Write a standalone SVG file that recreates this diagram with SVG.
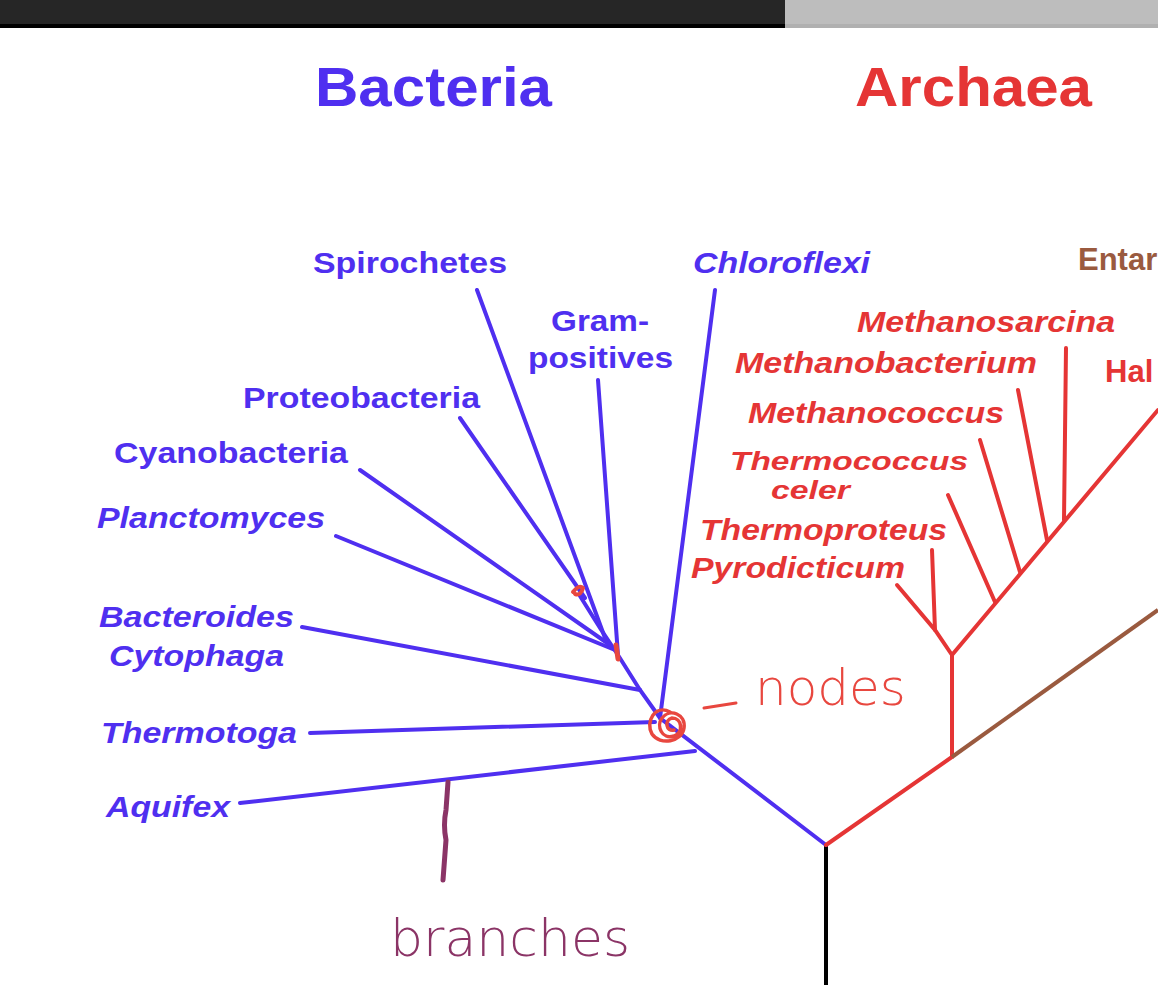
<svg xmlns="http://www.w3.org/2000/svg" width="1158" height="999" viewBox="0 0 1158 999">
<style>
.b{fill:#4f2ff0;font-family:"Liberation Sans",Arial,sans-serif;font-weight:bold;font-size:30px}
.r{fill:#e53535;font-family:"Liberation Sans",Arial,sans-serif;font-weight:bold;font-size:30px}
.i{font-style:italic}
.bl{stroke:#4f2ff0;stroke-width:4;fill:none;stroke-linecap:round}
.rl{stroke:#e53535;stroke-width:4;fill:none;stroke-linecap:round}
.hw{fill:none;stroke-linecap:round;stroke-linejoin:round}
</style>
<rect width="1158" height="999" fill="#fff"/>
<rect x="0" y="0" width="785" height="24" fill="#262626"/>
<rect x="0" y="24" width="785" height="4" fill="#000"/>
<rect x="785" y="0" width="373" height="24" fill="#bdbdbd"/>
<rect x="785" y="24" width="373" height="4" fill="#b0b0b0"/>
<g id="titles">
<text x="315" y="106" textLength="237" lengthAdjust="spacingAndGlyphs" style="font-size:56px" class="b">Bacteria</text>
<text x="855" y="106" textLength="237" lengthAdjust="spacingAndGlyphs" style="font-size:56px" class="r">Archaea</text>
</g>
<g id="connectors">
<line x1="826" y1="845" x2="826" y2="985" stroke="#000" stroke-width="4"/>
<polyline class="bl" points="826,845 660,718 640,690 618,655 600,628 580,596"/>
<line class="bl" x1="240" y1="803" x2="695" y2="751"/>
<line class="bl" x1="310" y1="733" x2="655" y2="722"/>
<line class="bl" x1="660" y1="718" x2="715" y2="290"/>
<line class="bl" x1="302" y1="627" x2="640" y2="690"/>
<line class="bl" x1="336" y1="536" x2="615" y2="650"/>
<line class="bl" x1="360" y1="470" x2="610" y2="645"/>
<line class="bl" x1="460" y1="418" x2="585" y2="598"/>
<line class="bl" x1="477" y1="290" x2="605" y2="638"/>
<line class="bl" x1="598" y1="380" x2="618" y2="655"/>
<polyline class="rl" points="826,845 952,757 952,655 1158,410"/>
<line x1="952" y1="757" x2="1158" y2="610" stroke="#9a5a3f" stroke-width="4"/>
<polyline class="rl" points="897,585 935,630 952,655"/>
<line class="rl" x1="932" y1="550" x2="935" y2="630"/>
<line class="rl" x1="948" y1="495" x2="995" y2="602"/>
<line class="rl" x1="980" y1="440" x2="1020" y2="572"/>
<line class="rl" x1="1018" y1="390" x2="1047" y2="540"/>
<line class="rl" x1="1066" y1="348" x2="1064" y2="520"/>
</g>
<g id="bacteria-labels">
<text x="313" y="273" textLength="194" lengthAdjust="spacingAndGlyphs" class="b">Spirochetes</text>
<text x="551" y="331" textLength="98" lengthAdjust="spacingAndGlyphs" class="b">Gram-</text>
<text x="528" y="368" textLength="145" lengthAdjust="spacingAndGlyphs" class="b">positives</text>
<text x="693" y="273" textLength="177" lengthAdjust="spacingAndGlyphs" class="b i">Chloroflexi</text>
<text x="243" y="408" textLength="237" lengthAdjust="spacingAndGlyphs" class="b">Proteobacteria</text>
<text x="114" y="463" textLength="234" lengthAdjust="spacingAndGlyphs" class="b">Cyanobacteria</text>
<text x="97" y="528" textLength="228" lengthAdjust="spacingAndGlyphs" class="b i">Planctomyces</text>
<text x="99" y="627" textLength="195" lengthAdjust="spacingAndGlyphs" class="b i">Bacteroides</text>
<text x="109" y="666" textLength="175" lengthAdjust="spacingAndGlyphs" class="b i">Cytophaga</text>
<text x="101" y="743" textLength="196" lengthAdjust="spacingAndGlyphs" class="b i">Thermotoga</text>
<text x="106" y="817" textLength="124" lengthAdjust="spacingAndGlyphs" class="b i">Aquifex</text>
</g>
<g id="archaea-labels">
<text x="1078" y="270" class="b" style="fill:#9a5a3f;font-size:31px">Entar</text>
<text x="857" y="332" textLength="258" lengthAdjust="spacingAndGlyphs" class="r i">Methanosarcina</text>
<text x="735" y="373" textLength="302" lengthAdjust="spacingAndGlyphs" class="r i">Methanobacterium</text>
<text x="748" y="423" textLength="256" lengthAdjust="spacingAndGlyphs" class="r i">Methanococcus</text>
<text x="730" y="470" textLength="238" lengthAdjust="spacingAndGlyphs" style="font-size:26px" class="r i">Thermococcus</text>
<text x="771" y="499" textLength="79" lengthAdjust="spacingAndGlyphs" style="font-size:26px" class="r i">celer</text>
<text x="700" y="540" textLength="247" lengthAdjust="spacingAndGlyphs" class="r i">Thermoproteus</text>
<text x="691" y="578" textLength="214" lengthAdjust="spacingAndGlyphs" class="r i">Pyrodicticum</text>
<text x="1105" y="382" class="r" style="font-size:31px">Hal</text>
</g>
<g id="annotations">
<path class="hw" stroke="#e8473f" stroke-width="4" d="M573,592 q6,-8 10,-4 q-2,8 -8,6"/>
<path class="hw" stroke="#e8473f" stroke-width="5" d="M616,645 l2,14"/>
<path class="hw" stroke="#e8473f" stroke-width="3.5" d="M670,712 c-15,-8 -25,10 -18,22 c8,12 30,8 32,-6 c2,-14 -14,-20 -22,-10 c-6,8 0,22 12,18 c10,-4 8,-18 -2,-18 c-8,2 -6,14 2,12"/>
<path class="hw" stroke="#e8473f" stroke-width="3" d="M704,708 l32,-5"/>
<text x="755" y="705" style="font-family:'DejaVu Sans',sans-serif;font-size:50px;fill:#e8473f;font-weight:200">nodes</text>
<path class="hw" stroke="#8b3466" stroke-width="5" d="M448,782 l-2,28 q-3,15 0,30 l-3,40"/>
<text x="390" y="956" style="font-family:'DejaVu Sans',sans-serif;font-size:52px;fill:#8b3466;font-weight:200" textLength="240">branches</text>
</g>
</svg>
